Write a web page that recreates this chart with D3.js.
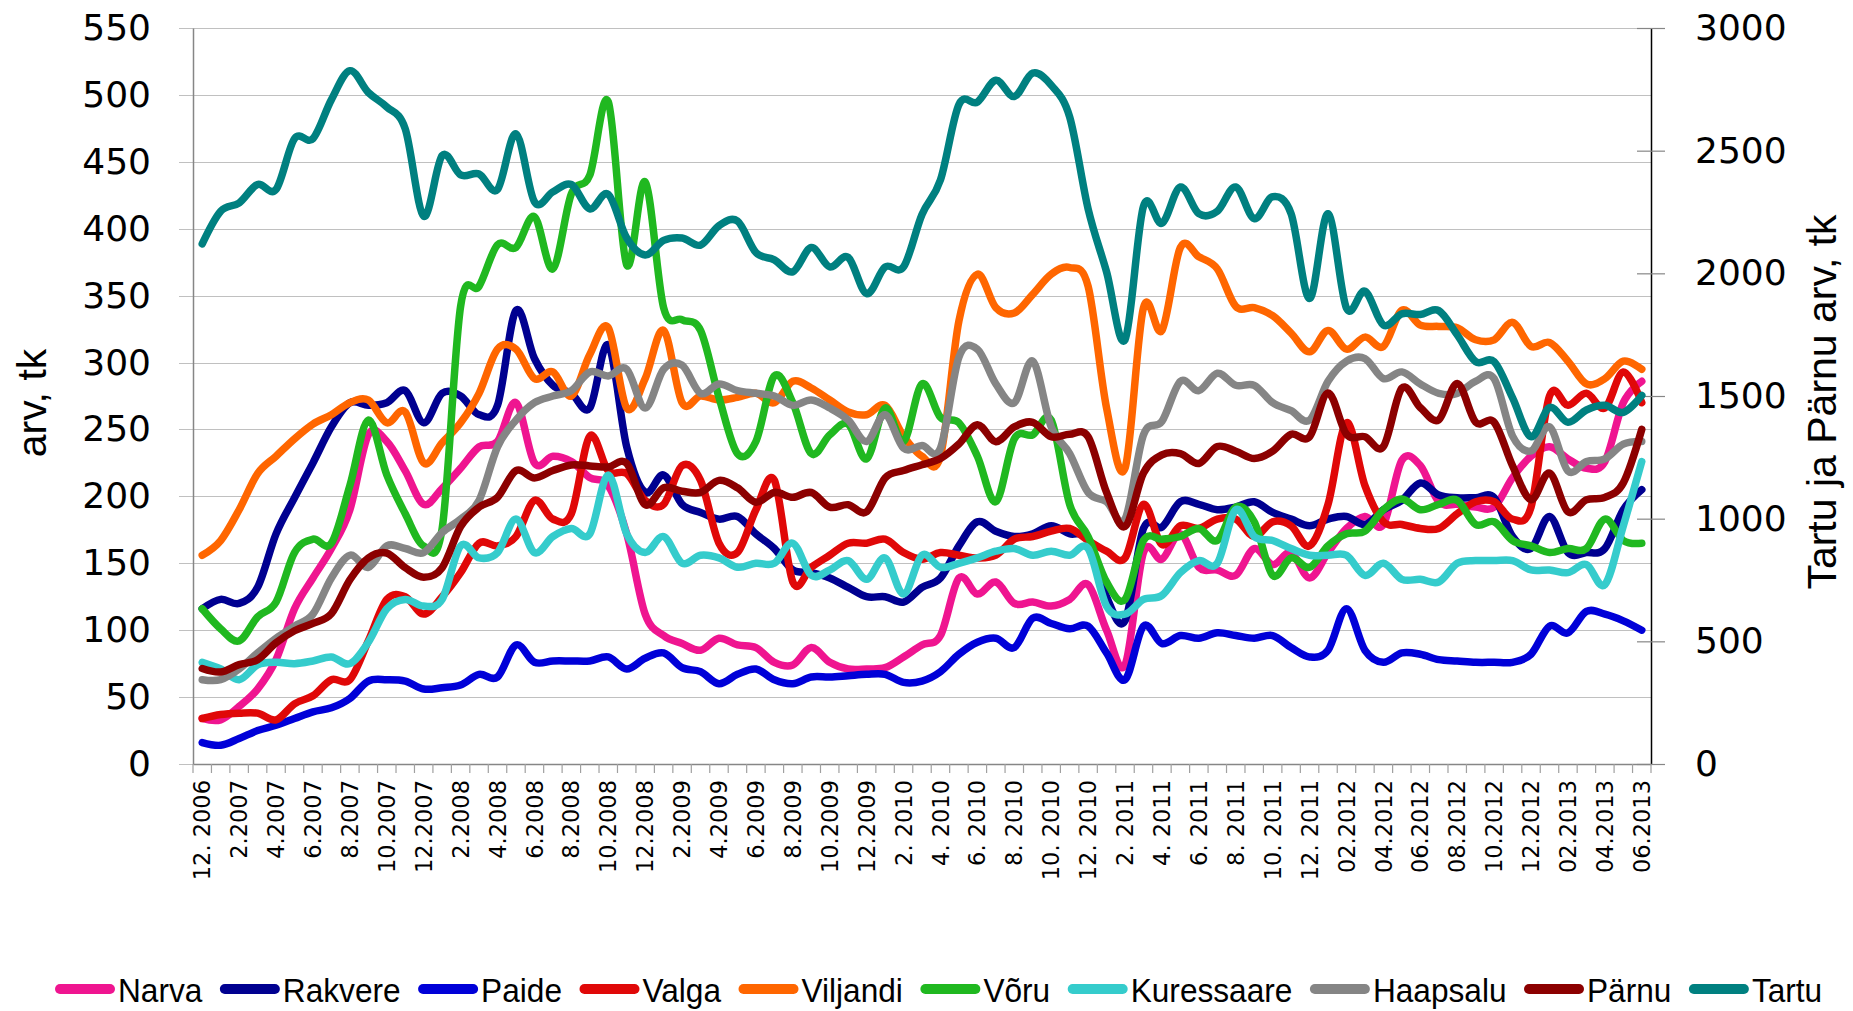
<!DOCTYPE html>
<html><head><meta charset="utf-8">
<script src="https://cdn.jsdelivr.net/npm/d3@7"></script>
<style>body{margin:0;background:#fff}</style>
</head><body><svg id="c" width="1853" height="1011"></svg>
<script>
const categories = ["12.2006",
 "1.2007","2.2007","3.2007","4.2007","5.2007","6.2007","7.2007","8.2007","9.2007","10.2007","11.2007","12.2007",
 "1.2008","2.2008","3.2008","4.2008","5.2008","6.2008","7.2008","8.2008","9.2008","10.2008","11.2008","12.2008",
 "1.2009","2.2009","3.2009","4.2009","5.2009","6.2009","7.2009","8.2009","9.2009","10.2009","11.2009","12.2009",
 "1.2010","2.2010","3.2010","4.2010","5.2010","6.2010","7.2010","8.2010","9.2010","10.2010","11.2010","12.2010",
 "1.2011","2.2011","3.2011","4.2011","5.2011","6.2011","7.2011","8.2011","9.2011","10.2011","11.2011","12.2011",
 "1.2012","2.2012","3.2012","4.2012","5.2012","6.2012","7.2012","8.2012","9.2012","10.2012","11.2012","12.2012",
 "1.2013","2.2013","3.2013","4.2013","5.2013","6.2013"];

const tickLabels = ["12. 2006","2.2007","4.2007","6.2007","8.2007","10.2007","12.2007","2.2008","4.2008","6.2008",
 "8.2008","10.2008","12.2008","2.2009","4.2009","6.2009","8.2009","10.2009","12.2009","2. 2010",
 "4. 2010","6. 2010","8. 2010","10. 2010","12. 2010","2. 2011","4. 2011","6. 2011","8. 2011","10. 2011",
 "12. 2011","02.2012","04.2012","06.2012","08.2012","10.2012","12.2012","02.2013","04.2013","06.2013"];

const leftTicks = [0,50,100,150,200,250,300,350,400,450,500,550];
const rightTicks = [0,500,1000,1500,2000,2500,3000];

const narva = [34,33,43,56,78,116,139,161,190,246,241,219,194,206,
 221,237,241,270,225,230,226,214,208,172,112,96,90,
 85,94,89,87,76,74,87,76,71,71,72,80,89,
 96,139,127,136,120,121,118,123,134,100,74,158,153,
 172,147,145,141,161,149,158,139,158,176,185,179,227,
 223,196,194,192,192,214,230,237,228,221,226,270,286];
const rakvere = [116,123,120,132,172,199,225,252,270,268,270,279,255,277,
 275,261,268,339,303,283,277,266,313,237,203,216,194,
 188,183,185,172,161,145,143,139,132,125,125,121,132,
 139,163,181,174,170,172,178,172,168,125,107,176,177,
 196,194,190,192,196,188,183,178,183,185,179,190,197,
 210,201,199,199,199,170,161,185,158,158,161,190,205];
const paide = [16,14,19,25,29,34,39,42,49,62,63,62,56,57,
 59,67,65,89,76,77,77,77,80,71,79,83,72,
 69,60,67,71,63,60,65,65,66,67,67,61,62,
 69,82,91,94,87,109,105,101,103,83,63,103,90,
 96,94,98,96,94,96,87,80,85,116,85,76,83,
 82,78,77,76,76,76,82,103,98,114,112,107,100];
const valga = [34,37,38,38,33,45,51,63,63,92,123,125,112,125,
 143,165,163,170,197,183,187,245,219,217,197,194,223,
 212,165,158,190,212,136,147,156,165,165,168,158,153,
 158,156,154,156,168,170,174,176,167,159,154,194,164,
 178,176,183,183,170,181,178,163,194,255,208,181,179,
 176,176,187,196,196,183,192,275,268,277,266,293,270];
const viljandi = [156,167,190,217,230,243,254,261,270,272,255,263,225,240,
 255,277,310,310,288,293,275,306,326,266,288,324,270,
 275,272,274,277,270,286,281,272,263,261,268,245,230,
 230,331,366,341,337,351,366,371,357,266,221,341,324,
 386,379,370,342,341,335,322,308,324,310,319,312,339,
 328,327,326,317,317,330,312,315,301,284,288,301,295];
const voru = [116,101,92,110,121,158,168,165,208,257,216,187,163,176,
 342,357,388,386,409,370,426,440,495,373,435,341,332,
 324,274,232,241,290,270,232,246,254,228,266,241,284,
 259,255,230,196,243,246,257,194,170,136,123,167,168,
 170,176,167,192,181,141,154,147,163,172,174,190,198,
 190,194,197,179,181,167,163,158,161,161,183,167,165];
const kuressaare = [76,71,63,74,76,75,77,80,75,91,116,123,118,123,
 163,154,158,183,158,170,176,172,216,172,158,170,150,
 156,154,147,150,150,165,141,145,152,138,154,127,156,
 147,150,154,159,161,156,159,156,161,118,112,123,126,
 143,152,150,190,170,167,161,156,156,156,141,150,138,
 138,136,150,152,152,152,145,145,143,149,134,178,226];
const haapsalu = [63,63,71,83,94,103,112,139,156,147,163,161,158,173,
 183,197,237,257,270,275,279,293,290,295,266,295,298,
 277,284,279,277,275,268,272,266,257,241,261,236,238,
 236,304,310,284,270,301,252,232,203,196,183,246,256,
 286,279,292,283,283,270,264,257,286,301,303,288,293,
 284,277,277,286,288,245,234,252,219,226,228,239,241];
const parnu = [389,375,405,425,494,543,573,613,751,840,860,800,761,800,
 968,1047,1087,1196,1166,1196,1219,1215,1211,1225,1057,1126,1112,
 1107,1156,1126,1067,1107,1087,1107,1047,1057,1028,1166,1196,1220,
 1245,1304,1383,1314,1374,1393,1334,1344,1334,1107,968,1186,1260,
 1265,1225,1294,1275,1245,1275,1344,1334,1512,1344,1334,1294,1532,
 1453,1403,1551,1393,1393,1215,1077,1186,1028,1077,1087,1146,1364];
const tartu = [2120,2253,2287,2362,2342,2549,2549,2708,2826,2737,2678,2589,2233,2480,
 2401,2405,2342,2569,2292,2332,2362,2263,2322,2144,2075,2134,2144,
 2115,2194,2213,2085,2055,2006,2105,2026,2065,1917,2026,2026,2240,
 2381,2688,2698,2787,2721,2816,2767,2638,2263,2006,1729,2273,2204,
 2352,2243,2253,2352,2223,2312,2243,1897,2243,1858,1927,1789,1835,
 1832,1848,1749,1640,1640,1492,1334,1453,1393,1443,1462,1433,1502];

const seriesNames = ["Narva","Rakvere","Paide","Valga","Viljandi","Võru","Kuressaare","Haapsalu","Pärnu","Tartu"];
const seriesValues = [narva,rakvere,paide,valga,viljandi,voru,kuressaare,haapsalu,parnu,tartu];
const seriesColors = ["#ef1590","#000090","#0000d8","#e00808","#ff6600","#20b820","#35cccc","#858585","#8c0000","#008080"];
const seriesAxis = ["L","L","L","L","L","L","L","L","R","R"];

const W = 1853, H = 1011;
const plotL = 193, plotR = 1651, plotT = 28, plotB = 764;
const svg = d3.select("#c");
svg.append("rect").attr("width", W).attr("height", H).attr("fill", "#fff");

const x = d3.scaleBand().domain(categories).range([plotL, plotR]);
const cx = c => x(c) + x.bandwidth() / 2;
const yL = d3.scaleLinear().domain([0, 550]).range([plotB, plotT]);
const yR = d3.scaleLinear().domain([0, 3000]).range([plotB, plotT]);

// gridlines
svg.append("g").selectAll("line").data(leftTicks).join("line")
  .attr("x1", plotL - 14).attr("x2", plotR)
  .attr("y1", d => Math.round(yL(d)) + 0.5).attr("y2", d => Math.round(yL(d)) + 0.5)
  .attr("stroke", "#c0c0c0").attr("stroke-width", 1.2);

// left axis
const gL = svg.append("g").attr("transform", `translate(${plotL},0)`)
  .call(d3.axisLeft(yL).tickValues(leftTicks).tickSize(0).tickSizeOuter(0).tickPadding(42));
gL.select(".domain").attr("stroke", "#868686").attr("stroke-width", 1.5);
gL.selectAll("text").attr("font-family", "DejaVu Sans").attr("font-size", 36).attr("fill", "#000");

// right axis
const gR = svg.append("g").attr("transform", `translate(${plotR},0)`)
  .call(d3.axisRight(yR).tickValues(rightTicks).tickFormat(d3.format("d"))
    .tickSizeInner(14).tickSizeOuter(0).tickPadding(30));
gR.selectAll(".tick line").attr("x1", -14).attr("x2", 14).attr("stroke", "#868686").attr("stroke-width", 1.2);
gR.select(".domain").attr("stroke", "#000").attr("stroke-width", 1.5);
gR.selectAll("text").attr("font-family", "DejaVu Sans").attr("font-size", 36).attr("fill", "#000");

// bottom axis
const gB = svg.append("g").attr("transform", `translate(0,${plotB})`)
  .call(d3.axisBottom(x).tickSize(0).tickSizeOuter(0)
    .tickFormat((d, i) => i % 2 === 0 ? tickLabels[i / 2] : ""));
gB.select(".domain").attr("stroke", "#868686").attr("stroke-width", 1.5);
gB.selectAll("text")
  .attr("transform", "rotate(-90)").attr("x", -16).attr("y", 0).attr("dy", "0.36em")
  .style("text-anchor", "end")
  .attr("font-family", "DejaVu Sans").attr("font-size", 22.5).attr("fill", "#000");
svg.append("g").selectAll("line").data(categories.concat([null])).join("line")
  .attr("x1", d => d === null ? plotR : x(d)).attr("x2", d => d === null ? plotR : x(d))
  .attr("y1", plotB).attr("y2", plotB + 9)
  .attr("stroke", "#a0a0a0").attr("stroke-width", 1.2);

// series
const series = seriesNames.map((n, k) => ({name: n, values: seriesValues[k], color: seriesColors[k], axis: seriesAxis[k]}));
const gLines = svg.append("g");
series.forEach(s => {
  const sc = s.axis === "L" ? yL : yR;
  const line = d3.line().x((d, i) => cx(categories[i])).y(d => sc(d)).curve(d3.curveCardinal.tension(0));
  gLines.append("path").datum(s.values).attr("d", line)
    .attr("fill", "none").attr("stroke", s.color).attr("stroke-width", 7.5)
    .attr("stroke-linejoin", "round").attr("stroke-linecap", "round");
});

// axis titles
svg.append("text").attr("transform", "translate(46,403) rotate(-90)")
  .attr("text-anchor", "middle").attr("font-family", "Liberation Sans").attr("font-size", 41)
  .attr("fill", "#000").text("arv, tk");
svg.append("text").attr("transform", "translate(1836,402) rotate(-90)")
  .attr("text-anchor", "middle").attr("font-family", "Liberation Sans").attr("font-size", 41)
  .attr("fill", "#000").text("Tartu ja Pärnu arv, tk");

// legend
const gLeg = svg.append("g");
let lx = 55;
series.forEach(s => {
  gLeg.append("line").attr("x1", lx + 5).attr("x2", lx + 55).attr("y1", 989).attr("y2", 989)
    .attr("stroke", s.color).attr("stroke-width", 10).attr("stroke-linecap", "round");
  const t = gLeg.append("text").attr("x", lx + 63).attr("y", 1002)
    .attr("font-family", "Liberation Sans").attr("font-size", 34).attr("fill", "#000").text(s.name);
  const w = t.node().getComputedTextLength() * 0.93;
  t.attr("textLength", w).attr("lengthAdjust", "spacingAndGlyphs");
  lx = lx + 63 + w + 17.5;
});
</script>
</body></html>
